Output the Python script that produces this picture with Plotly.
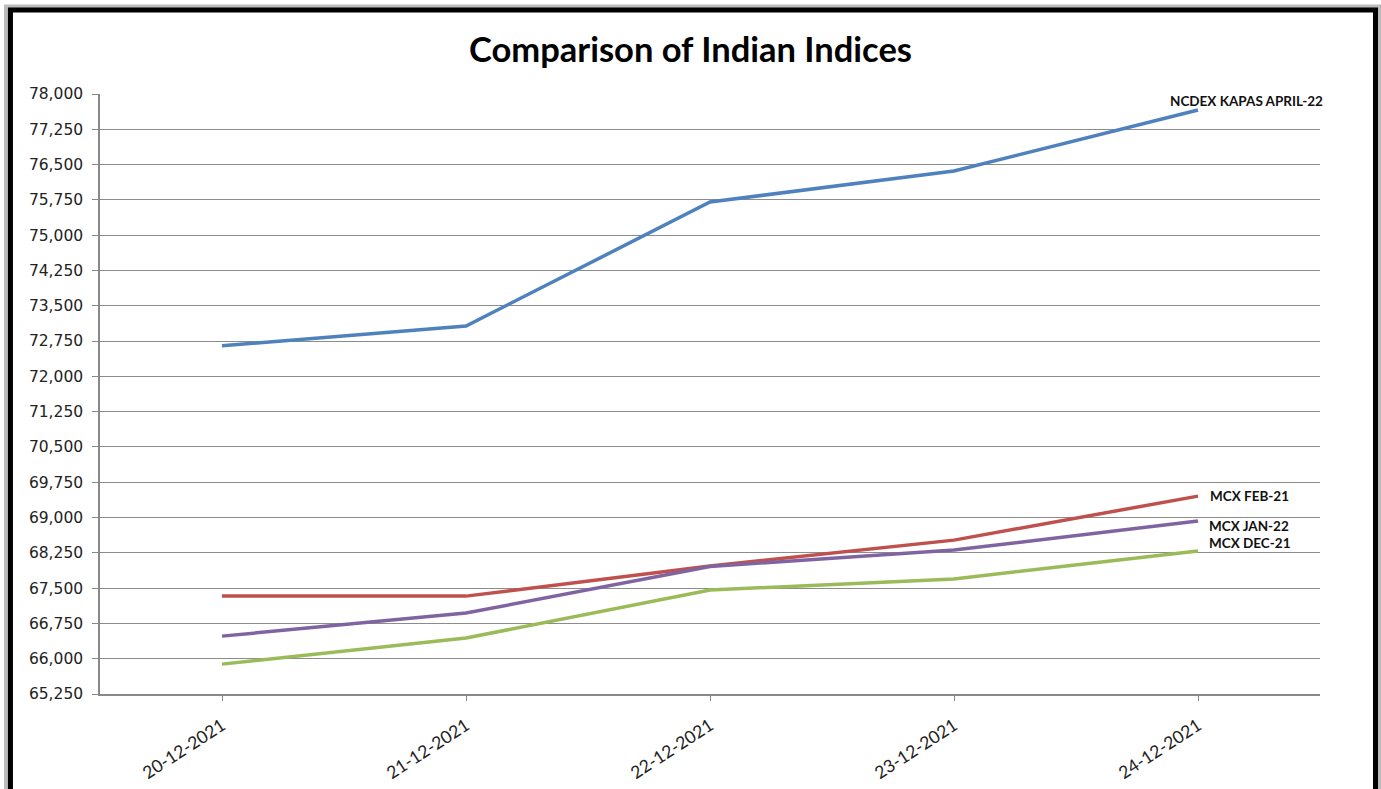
import plotly.graph_objects as go

dates = ["20-12-2021", "21-12-2021", "22-12-2021", "23-12-2021", "24-12-2021"]

ncdex_kapas_apr22 = [72650, 73070, 75705, 76365, 77660]
mcx_feb21 = [67330, 67330, 67970, 68520, 69455]
mcx_jan22 = [66480, 66970, 67960, 68310, 68925]
mcx_dec21 = [65885, 66440, 67460, 67695, 68290]

series = [
    ("NCDEX KAPAS APRIL-22", ncdex_kapas_apr22, "#4F81BD"),
    ("MCX FEB-21", mcx_feb21, "#C0504D"),
    ("MCX JAN-22", mcx_jan22, "#8064A2"),
    ("MCX DEC-21", mcx_dec21, "#9BBB59"),
]

y_ticks = list(range(65250, 78001, 750))

fig = go.Figure()
for name, vals, color in series:
    fig.add_trace(go.Scatter(
        x=dates, y=vals, mode="lines", name=name,
        line=dict(color=color, width=3.5),
    ))

label_font = dict(family="Lato, Open Sans, sans-serif", size=13.5, color="#111111")
# series names placed at the last point of each line
fig.add_annotation(x=dates[-1], y=ncdex_kapas_apr22[-1], text="<b>NCDEX KAPAS APRIL-22</b>",
                   showarrow=False, xanchor="right", yanchor="bottom", xshift=127, yshift=-1,
                   font=label_font)
fig.add_annotation(x=dates[-1], y=mcx_feb21[-1], text="<b>MCX FEB-21</b>",
                   showarrow=False, xanchor="left", yanchor="middle", xshift=10, yshift=0,
                   font=label_font)
fig.add_annotation(x=dates[-1], y=mcx_jan22[-1], text="<b>MCX JAN-22</b>",
                   showarrow=False, xanchor="left", yanchor="middle", xshift=9, yshift=-5,
                   font=label_font)
fig.add_annotation(x=dates[-1], y=mcx_dec21[-1], text="<b>MCX DEC-21</b>",
                   showarrow=False, xanchor="left", yanchor="middle", xshift=9, yshift=8,
                   font=label_font)

# outer frame with a soft shadow
fig.add_shape(type="rect", xref="paper", yref="paper",
              x0=-0.077, x1=1.049, y0=-0.2, y1=1.146,
              line=dict(color="#BBBBBB", width=4), layer="below")
fig.add_shape(type="rect", xref="paper", yref="paper",
              x0=-0.0734, x1=1.0455, y0=-0.18, y1=1.14,
              line=dict(color="#000000", width=5), layer="below")

fig.update_layout(
    width=1381, height=789,
    margin=dict(l=100, r=61, t=94, b=95),
    paper_bgcolor="white", plot_bgcolor="white",
    showlegend=False,
    title=dict(text="<b>Comparison of Indian Indices</b>", x=0.5, xref="container",
               xanchor="center", y=0.937, yanchor="middle",
               font=dict(family="Lato, Open Sans, sans-serif", size=34.5, color="#000000")),
    xaxis=dict(
        type="category", range=[-0.5, 4.5], automargin=False,
        showgrid=False, showline=True, linecolor="#888888", linewidth=1.5,
        ticks="outside", ticklen=5, tickcolor="#888888",
        ticklabelstandoff=8,
        tickangle=-33, tickfont=dict(family="Lato, Open Sans, sans-serif", size=17.5, color="#222222"),
        zeroline=False,
    ),
    yaxis=dict(
        range=[65250, 78000], tickvals=y_ticks, automargin=False,
        tickformat=",d",
        showgrid=True, gridcolor="#8C8C8C", gridwidth=1.2,
        showline=True, linecolor="#888888", linewidth=1.5,
        ticks="outside", ticklen=6, tickcolor="#888888",
        ticklabelstandoff=6,
        tickfont=dict(family="DejaVu Sans, Verdana, sans-serif", size=15.5, color="#222222"),
        zeroline=False,
    ),
)

fig.write_html("out.html")
